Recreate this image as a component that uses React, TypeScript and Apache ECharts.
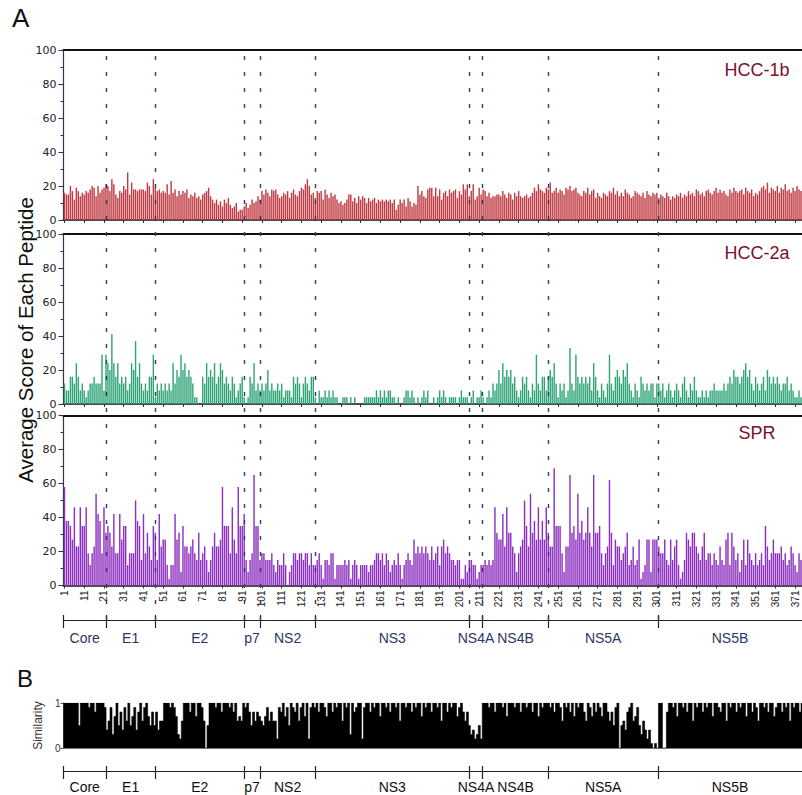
import React, { useEffect, useRef } from "react";
import * as echarts from "echarts";

const N = 374;
const categories = Array.from({ length: N }, (_, i) => String(i + 1));

const hcc1b = [
  16,15,15,20,17,12,19,17,14,16, 15,17,16,18,20,19,14,20,16,18,
  19,21,20,17,24,21,15,13,17,16, 20,18,28,15,22,18,18,17,18,18,
  18,17,22,20,15,24,19,17,18,16, 17,16,21,15,23,16,18,14,17,15,
  17,16,18,13,15,14,16,13,14,12, 15,16,17,19,14,12,10,12,9,11,
  8,12,10,13,9,7,8,10,5,6, 6,8,10,7,9,12,10,11,14,12,
  17,15,18,16,14,18,17,18,15,13, 14,16,15,17,13,16,18,15,14,17,
  19,18,21,24,20,15,16,13,17,16, 17,12,18,15,13,16,14,15,12,10,
  11,9,10,12,15,15,11,13,10,14, 12,14,13,10,13,11,12,13,10,12,
  11,12,11,12,11,12,10,12,6,9, 12,10,12,8,13,11,8,10,9,20,
  15,17,14,13,18,19,19,14,19,14, 18,12,16,17,14,18,16,17,18,13,
  17,15,21,18,21,14,17,21,12,14, 19,15,18,17,14,16,13,14,14,15,
  15,14,17,15,13,16,15,12,16,14, 17,14,13,14,15,13,14,16,19,17,
  21,18,17,16,19,18,22,16,17,19, 16,18,17,15,19,18,20,17,18,19,
  16,15,14,17,16,19,15,17,18,13, 16,14,13,16,15,14,17,16,19,15,
  17,14,16,14,18,16,15,13,14,17, 16,15,14,16,13,17,15,14,16,15,
  16,13,15,14,13,16,14,12,14,13, 15,14,16,13,15,14,17,15,16,14,
  18,17,15,16,14,17,18,16,15,17, 19,16,18,16,17,15,14,18,16,19,
  17,16,17,18,15,19,17,16,18,14, 16,15,17,19,20,18,22,16,19,18,
  17,20,16,19,18,21,17,18,16,19, 17,20,18,17,
];

const hcc2a = [
  12,8,8,16,16,12,24,16,8,12, 8,4,8,12,12,16,12,12,12,29,
  8,29,24,20,41,24,16,24,12,16, 12,16,8,12,24,20,37,16,24,12,
  8,12,8,16,16,29,4,12,8,12, 8,12,8,12,8,24,12,20,16,29,
  20,24,16,20,16,12,4,4,0,0, 16,12,24,16,20,16,24,12,16,24,
  20,12,16,12,8,16,12,4,8,12, 16,4,0,4,16,12,24,8,12,8,
  12,8,12,20,8,12,8,8,12,8, 12,4,8,8,8,4,16,12,16,12,
  4,12,16,12,8,16,16,4,0,8, 4,4,8,4,8,4,8,4,4,0,
  0,4,4,4,0,4,0,4,0,0, 0,0,4,4,4,4,4,4,8,4,
  8,4,8,4,8,8,4,4,0,4, 0,0,4,8,8,4,8,4,0,4,
  0,4,8,4,8,0,0,4,0,4, 8,4,8,4,0,4,4,4,4,0,
  4,8,4,4,4,0,4,8,0,4, 4,8,4,0,4,8,4,12,8,12,
  20,12,24,16,20,16,20,12,16,8, 4,8,16,12,16,8,4,12,8,29,
  12,8,16,16,8,16,20,16,24,12, 4,12,8,12,4,8,33,12,8,29,
  16,12,16,12,16,12,16,8,24,16, 8,4,12,8,4,12,29,12,8,16,
  20,16,12,20,16,24,12,8,4,12, 8,4,16,12,8,12,8,12,12,4,
  12,12,8,12,4,8,12,8,4,8, 12,8,4,12,16,8,4,12,8,16,
  8,4,4,8,4,8,4,8,8,12, 8,8,8,8,12,8,12,16,12,20,
  16,16,12,16,20,24,16,20,12,8, 16,12,8,12,16,8,20,16,12,16,
  12,16,12,8,12,12,16,8,12,8, 4,4,8,4,
];

const spr = [
  58,38,38,35,27,46,23,23,46,35, 35,46,19,12,19,23,54,42,38,19,
  46,31,35,31,23,42,19,19,42,27, 35,35,12,19,19,19,50,38,35,15,
  42,19,31,23,15,35,31,15,42,23, 27,27,12,4,12,12,42,27,31,8,
  35,23,23,19,23,27,19,15,31,15, 19,23,15,8,15,23,31,23,23,27,
  58,35,35,35,19,46,27,19,58,35, 35,42,15,8,15,19,65,35,35,15,
  19,19,15,15,15,19,12,8,15,12, 12,19,12,0,8,12,19,19,15,19,
  19,15,19,19,12,19,12,12,15,19, 12,4,15,15,12,19,19,4,12,12,
  12,12,15,12,15,4,12,15,12,4, 12,12,12,12,8,12,12,15,19,19,
  15,19,12,19,15,8,12,15,12,19, 12,4,12,15,19,15,12,27,19,23,
  19,23,19,23,19,15,23,15,19,23, 12,23,27,19,23,19,15,15,12,15,
  15,4,4,12,8,15,15,12,12,4, 8,12,12,15,12,15,12,15,46,31,
  27,27,42,23,46,31,31,23,19,8, 19,23,27,50,35,23,54,31,38,27,
  46,27,38,27,46,31,23,23,69,35, 35,35,19,8,23,23,65,31,35,27,
  54,31,38,27,31,46,31,23,65,31, 31,35,19,12,19,23,62,31,12,27,
  23,23,15,19,23,31,12,15,23,12, 15,27,4,8,12,27,27,8,27,27,
  27,23,19,19,27,15,12,27,15,23, 27,12,4,8,15,31,27,23,31,31,
  23,19,15,23,31,15,19,19,12,19, 15,12,23,15,12,27,31,12,31,23,
  15,19,8,15,27,12,27,19,15,12, 19,12,15,19,12,35,23,15,19,27,
  19,19,19,23,15,19,12,15,23,19, 12,8,19,15,
];

const similarity = [
  1,1,1,1,1,1,1,1,.5,1, 1,1,1,.9,1,1,.8,1,1,1, 1,
  .9,.4,.6,.9,.3,.7,1,.5,.8,.4, .9,.6,1,.5,.7,.9,.4,.8,1,.6, .9,1,.7,.5,.8,
  .5,.8,.4,.6, .6,1,1,1,.9,1,.9,.7, .3,.2,.6,1, 1,1,.8,1,1,.7,1,1,.9, .6,0,.5,
  1,1,1,.9,1,1,.8,1,1,1,.9,1,.8,1, .6,.7,.6,
  1,.9,1,.8,.5,.8,.6,.8,
  .7,.6,.5,.7,.9,.6,.8,.6,.6,.2, .9,.8,1,.7,.9,.5,1,.9,.8,1, .6,.9,1,.7,1,.2,.9,1,
  .9,1,.8,1,1,.9,.7,1,1,.8, 1,.9,1,1,.6,1,.9,1,.3,1, .8,.9,1,1,.2,.9,1,1,.8,1,
  .9,1,1,.7,1,1,.9,1,.8,1, 1,.9,1,.6,1,1,.9,1,1,.8, 1,.9,1,1,.7,1,.9,1,1,.8,
  1,1,.9,1,.6,1,1,.8,1,.9, 1,1,.7,.9,1,.8,.6,.8,
  .5,.3,.4,.2,.3,.5,.2,
  1,1,1,.9,1,1,.8,1,1,1, .9,1,.7,1,1,1,.9,1,1,.8, 1,1,.9,1,1,.8,1,1,.7,1, .9,1,1,
  1,.9,1,.8,1,1,.9,.6,1,.9, 1,.8,1,.7,1,.9,1,1,.8,.6, 1,.9,.7,1,.8,1,.9,.7,1,1,
  .8,.6,.8,.5,.9,1,0,.5,.6,.4, .8,.9,1,.6,.7,.9,.5,.3,.6,.4, .2,.4,.1,0,.1,0,
  1,1,0,0,.8,1,1,.9,1,.7, 1,1,.9,1,.8,1,1,.6,1,.9, 1,1,.8,1,.9,1,1,.7,1,1,
  .9,.8,1,1,.6,1,.9,1,1,.8, 1,.9,1,1,.7,1,1,.8,1,.9, .6,1,1,.9,1,.8,1,1,.7,.9,
  1,1,.8,1,.9,1,.6,1,.9,1, 1,.8,1,
];

const regionNames = ["Core", "E1", "E2", "p7", "NS2", "NS3", "NS4A", "NS4B", "NS5A", "NS5B"];
const regionBounds = [0.5, 22, 47, 92, 100, 128, 206, 212.8, 246, 301.6, 374.5];
const panelNames = ["HCC-1b", "HCC-2a", "SPR"];
const scoreTicks = [0, 20, 40, 60, 80, 100];

const FONT = "'Liberation Sans', Arial, Helvetica, sans-serif";
const WIDE = "'DejaVu Sans', Verdana, sans-serif";

export default function App() {
  const ref = useRef<HTMLDivElement>(null);
  useEffect(() => {
    if (!ref.current) return;
    const chart = echarts.init(ref.current, undefined, { renderer: "svg" });
    const L = 63.5;
    const mids = regionNames.map((_, i) => (regionBounds[i] + regionBounds[i + 1]) / 2);
    const tickBounds = regionBounds.slice(0, regionBounds.length - 1);
    const nameOf = (v: number) => {
      let best = 0;
      mids.forEach((m, i) => { if (Math.abs(m - v) < Math.abs(mids[best] - v)) best = i; });
      return regionNames[best];
    };
    const every10 = (i: number) => i % 10 === 0;

    const catAxis = (gi: number, showLabels: boolean) => ({
      type: "category", gridIndex: gi, data: categories, boundaryGap: true,
      axisLine: { show: true, onZero: false, lineStyle: { color: "#111", width: 1.5 } },
      axisTick: { show: true, interval: every10, alignWithLabel: true, length: 3, lineStyle: { color: "#333" } },
      axisLabel: { show: showLabels, interval: every10, rotate: 90, fontSize: 10, color: "#222", margin: 5, fontFamily: FONT },
      splitLine: { show: false },
    });
    const topAxis = (gi: number) => ({
      type: "value", gridIndex: gi, position: "top", min: 0, max: 1,
      axisLine: { show: true, onZero: false, lineStyle: { color: "#111", width: 2 } },
      axisTick: { show: false }, axisLabel: { show: false }, splitLine: { show: false },
    });
    const scoreAxis = (gi: number) => ({
      type: "value", gridIndex: gi, min: scoreTicks[0], max: scoreTicks[scoreTicks.length - 1], interval: 20,
      axisLine: { show: true, onZero: false, lineStyle: { color: "#2f3550", width: 1.2 } },
      axisTick: { show: true, length: 5, lineStyle: { color: "#333" } },
      minorTick: { show: true, splitNumber: 2, length: 3, lineStyle: { color: "#333" } },
      axisLabel: { fontSize: 11, color: "#222", margin: 7, fontFamily: WIDE },
      splitLine: { show: false },
    });
    const regionAxis = (gi: number, color: string, margin: number) => ({
      type: "value", gridIndex: gi, position: "bottom", min: regionBounds[0], max: regionBounds[regionBounds.length - 1],
      axisLine: { show: true, onZero: false, lineStyle: { color: "#222", width: 1.2 } },
      axisTick: { show: true, customValues: tickBounds, length: 8, lineStyle: { color: "#222", width: 1.2 } },
      axisLabel: { show: true, customValues: mids, formatter: nameOf, fontSize: 14, color, margin, fontFamily: FONT },
      splitLine: { show: false },
    });
    const regionInner = (gi: number) => ({
      type: "value", gridIndex: gi, position: "bottom", min: regionBounds[0], max: regionBounds[regionBounds.length - 1],
      axisLine: { show: false, onZero: false },
      axisTick: { show: true, inside: true, customValues: tickBounds, length: 5, lineStyle: { color: "#222", width: 1.2 } },
      axisLabel: { show: false }, splitLine: { show: false },
    });
    const hiddenY = (gi: number) => ({ type: "value", gridIndex: gi, min: 0, max: 1, show: false });

    const barColors = ["#bf3a42", "#2fa576", "#8d2fc0"];
    const datasets = [hcc1b, hcc2a, spr];

    const option: any = {
      animation: false,
      textStyle: { fontFamily: FONT },
      grid: [
        { left: L, right: 0, top: 50, height: 170 },
        { left: L, right: 0, top: 234, height: 170 },
        { left: L, right: 0, top: 415.5, height: 170 },
        { left: L, right: 0, top: 50, height: 570 },
        { left: L, right: 0, top: 703, height: 45 },
        { left: L, right: 0, top: 760, height: 11 },
      ],
      xAxis: [
        catAxis(0, false), topAxis(0),
        catAxis(1, false), topAxis(1),
        catAxis(2, true), topAxis(2),
        regionAxis(3, "#2b3668", 11), regionInner(3),
        {
          type: "category", gridIndex: 4, data: categories, boundaryGap: false,
          axisLine: { show: true, onZero: false, lineStyle: { color: "#777", width: 1 } },
          axisTick: { show: false }, axisLabel: { show: false }, splitLine: { show: false },
        },
        regionAxis(5, "#111", 9), regionInner(5),
      ],
      yAxis: [
        scoreAxis(0), scoreAxis(1), scoreAxis(2), hiddenY(3),
        {
          type: "value", gridIndex: 4, min: 0, max: 1, interval: 1,
          axisLine: { show: true, onZero: false, lineStyle: { color: "#555", width: 1 } },
          axisTick: { show: true, length: 3, lineStyle: { color: "#555" } },
          axisLabel: { fontSize: 10, color: "#333", margin: 3, fontFamily: FONT },
          splitLine: { show: false },
          name: "Similarity", nameLocation: "middle", nameGap: 13,
          nameTextStyle: { fontSize: 12, color: "#333", fontFamily: FONT },
        },
        hiddenY(5),
      ],
      series: [
        ...datasets.map((d, i) => ({
          type: "bar", name: panelNames[i], xAxisIndex: i * 2, yAxisIndex: i, data: d,
          barWidth: "72%", itemStyle: { color: barColors[i] }, silent: true,
        })),
        {
          type: "scatter", xAxisIndex: 6, yAxisIndex: 3, data: [[1, 0]], symbolSize: 0, silent: true, z: 10,
          markLine: {
            silent: true, symbol: ["none", "none"], label: { show: false },
            lineStyle: { type: [4, 12], color: "#2e3a6a", width: 1.4 },
            data: regionBounds.slice(1, regionBounds.length - 1).map((b) => ({ xAxis: b })),
          },
        },
        {
          type: "line", name: "Similarity", xAxisIndex: 8, yAxisIndex: 4, data: similarity,
          step: "middle", symbol: "none", silent: true,
          lineStyle: { color: "#000", width: 0.6 },
          areaStyle: { color: "#000", opacity: 1 },
        },
      ],
      graphic: [
        { type: "text", left: 12, top: 5, style: { text: "A", fontSize: 26, fill: "#111", fontFamily: FONT } },
        { type: "text", left: 17, top: 666, style: { text: "B", fontSize: 24, fill: "#111", fontFamily: FONT } },
        {
          type: "text", x: 25, y: 340, rotation: Math.PI / 2,
          style: {
            text: "Average Score of Each Peptide", fontSize: 20.5, fill: "#111", fontFamily: FONT,
            textAlign: "center", textVerticalAlign: "middle", align: "center", verticalAlign: "middle",
          },
        },
        ...panelNames.map((t, i) => ({
          type: "text", x: 757, y: [70, 253, 433][i],
          style: {
            text: t, fontSize: 18, fill: "#7b0f2e", fontFamily: FONT,
            textAlign: "center", textVerticalAlign: "middle", align: "center", verticalAlign: "middle",
          },
        })),
      ],
    };
    chart.setOption(option);
    return () => chart.dispose();
  }, []);
  return <div ref={ref} style={{ position: "absolute", left: 0, top: 0, width: 802, height: 795 }} />;
}
